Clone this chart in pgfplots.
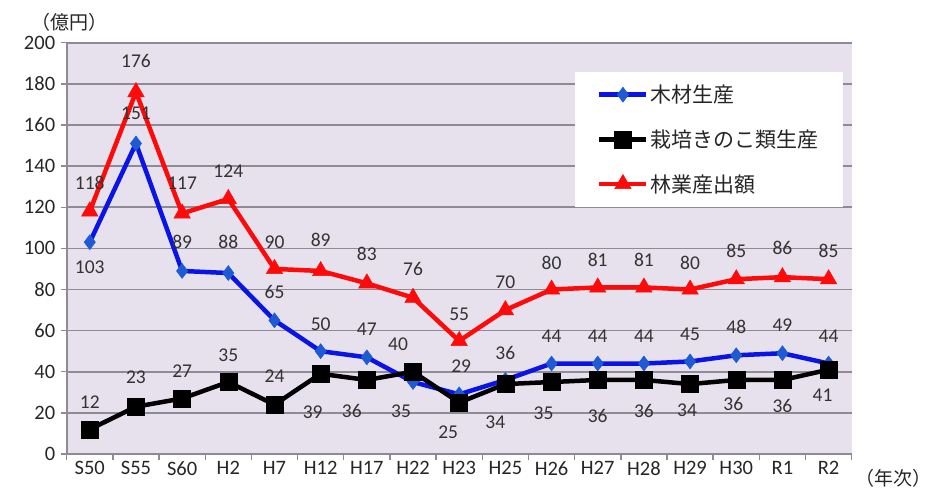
\documentclass[border=0pt]{standalone}
\usepackage{pgfplots}
\usepackage{pgfplotstable}
\pgfplotsset{compat=1.18}
\usepackage{fontspec}
\setmainfont{Carlito}
\newfontfamily\jp{Noto Sans CJK JP}
\definecolor{bgc}{HTML}{E6E1EC}
\definecolor{gridc}{HTML}{8E8A96}
\definecolor{woodc}{HTML}{0A14E6}
\definecolor{woodm}{HTML}{1E5AD2}
\definecolor{redc}{HTML}{FF0A0A}
\pgfplotstableread{
x wood wdx wdy mush mdx mdy total tdy
0  103 0   25 12 0   -27 118 -28
1  151 0  -30 23 0   -29 176 -31
2  89  0  -29 27 0   -27 117 -30
3  88  0  -31 35 0   -27 124 -28
4  65  0  -28 24 0   -28 90  -27
5  50  0  -27 39 -8   38 89  -31
6  47  0  -28 36 -15  31 83  -29
7  35  -12 29 40 -15 -28 76  -29
8  29  2  -28 25 -11  30 55  -27
9  36  0  -27 34 -10  38 70  -28
10 44  0  -27 35 -8   31 80  -27
11 44  0  -27 36 0    36 81  -28
12 44  0  -27 36 0    31 81  -28
13 45  0  -27 34 -3   26 80  -27
14 48  0  -28 36 -3   24 85  -28
15 49  0  -28 36 0    26 86  -29
16 44  0  -27 41 -6   26 85  -28
}\data
\begin{document}
\begin{tikzpicture}
\path[use as bounding box] (0,0) rectangle (934pt,491pt);
\begin{axis}[
  at={(66.7pt,37pt)}, anchor=south west,
  scale only axis, width=785pt, height=411.3pt,
  xmin=-0.5, xmax=16.5, ymin=0, ymax=200,
  axis background/.style={fill=bgc},
  axis x line*=bottom, axis y line*=left,
  axis line style={gridc, line width=1.6pt},
  ytick={0,20,...,200},
  ymajorgrids, grid style={gridc, line width=1.6pt},
  xtick={-0.5,0.5,...,16.5}, xticklabels={},
  extra x ticks={0,...,16},
  extra x tick labels={S50,S55,S60,H2,H7,H12,H17,H22,H23,H25,H26,H27,H28,H29,H30,R1,R2},
  extra x tick style={major tick length=0pt, grid=none},
  tick align=outside, major tick length=6pt,
  tick style={gridc, line width=1.4pt},
  ticklabel style={font=\fontsize{20.5}{22}\selectfont, text=black!85},
  /pgf/number format/assume math mode=true,
  xticklabel style={yshift=-4pt},
  yticklabel style={xshift=-2pt},
  clip=false,
  nodes near coords,
  point meta=explicit,
  every node near coord/.append style={font=\fontsize{19.5}{21}\selectfont, text=black!80, anchor=center,
    /pgf/number format/fixed, /pgf/number format/precision=0, /pgf/number format/assume math mode=true},
  legend style={at={(0.6475,0.929)}, anchor=north west, draw=none, fill=white,
    font=\jp\fontsize{21}{23}\selectfont, text=black!85,
    inner xsep=22pt, inner ysep=11pt, row sep=21.5pt, cells={anchor=west},
    /tikz/every odd column/.append style={column sep=0pt}},
  legend image code/.code={
    \draw[#1, mark=none] (0pt,0pt) -- (47pt,0pt);
    \draw[#1, only marks] plot coordinates {(23.5pt,0pt)};
  },
]
\addplot[woodc, line width=4.5pt, mark=diamond*, mark size=7.5pt,
  mark options={fill=woodm, draw=woodm, line width=0.5pt},
  visualization depends on={\thisrow{wdx}\as\ndx},
  visualization depends on={\thisrow{wdy}\as\ndy},
  every node near coord/.append style={xshift=\ndx pt, yshift=-\ndy pt}]
  table[x=x, y=wood, meta=wood]{\data};
\addlegendentry{木材生産}
\addplot[black, line width=4.5pt, mark=square*, mark size=8.5pt,
  mark options={line width=0.5pt},
  visualization depends on={\thisrow{mdx}\as\ndx},
  visualization depends on={\thisrow{mdy}\as\ndy},
  every node near coord/.append style={xshift=\ndx pt, yshift=-\ndy pt}]
  table[x=x, y=mush, meta=mush]{\data};
\addlegendentry{栽培きのこ類生産}
\addplot[redc, line width=4.5pt, mark=triangle*, mark size=9.5pt,
  mark options={line width=0.5pt},
  visualization depends on={\thisrow{tdy}\as\ndy},
  every node near coord/.append style={yshift=-\ndy pt}]
  table[x=x, y=total, meta=total]{\data};
\addlegendentry{林業産出額}
\end{axis}
\node[font=\jp\fontsize{19}{21}\selectfont, text=black!85] at (69pt,469pt) {（億円）};
\node[font=\jp\fontsize{19}{21}\selectfont, text=black!85, anchor=east, inner xsep=1pt] at (933pt,13pt) {（年次）};
\end{tikzpicture}
\end{document}
